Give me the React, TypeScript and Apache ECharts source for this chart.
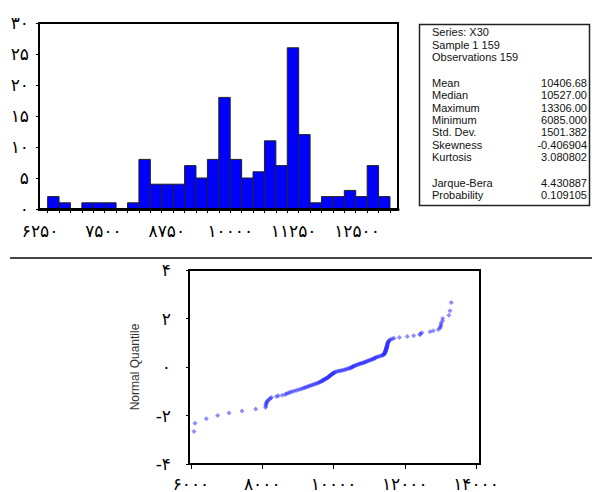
import React, { useEffect, useRef } from "react";
import * as echarts from "echarts";

// ---------- Histogram data ----------
const histCounts = [2, 1, 0, 1, 1, 1, 0, 1, 8, 4, 4, 4, 7, 5, 8, 18, 8, 5, 6, 11, 7, 26, 12, 1, 2, 2, 3, 2, 7, 2];
const binEdges = [
  6400, 6625, 6850, 7075, 7300, 7525, 7750, 7975, 8200, 8425, 8650, 8875, 9100, 9325, 9550, 9775,
  10000, 10225, 10450, 10675, 10900, 11125, 11350, 11575, 11800, 12025, 12250, 12475, 12700, 12925, 13150,
];
const histXLabels = [6250, 7500, 8750, 10000, 11250, 12500];

// ---------- Statistics box ----------
const statHeader = ["Series: X30", "Sample 1 159", "Observations 159"];
const statNames = ["Mean", "Median", "Maximum", "Minimum", "Std. Dev.", "Skewness", "Kurtosis"];
const statValues = ["10406.68", "10527.00", "13306.00", "6085.000", "1501.382", "-0.406904", "3.080802"];
const testNames = ["Jarque-Bera", "Probability"];
const testValues = ["4.430887", "0.109105"];

// ---------- Normal quantile plot data ----------
const qqValues = [
  6085, 6112, 6430, 6750, 7067, 7432, 7815, 8095, 8100, 8105,
  8112, 8124, 8140, 8165, 8200, 8230, 8260, 8400, 8450, 8560,
  8640, 8680, 8730, 8780, 8830, 8890, 8950, 9010, 9070, 9120,
  9170, 9200, 9240, 9280, 9320, 9360, 9400, 9440, 9480, 9520,
  9560, 9590, 9620, 9650, 9670, 9690, 9710, 9730, 9750, 9770,
  9790, 9810, 9830, 9845, 9860, 9875, 9890, 9905, 9920, 9935,
  9950, 9965, 9980, 9995, 10010, 10030, 10060, 10100, 10140, 10180,
  10220, 10260, 10300, 10340, 10370, 10420, 10450, 10480, 10500, 10527,
  10545, 10565, 10590, 10620, 10650, 10680, 10710, 10740, 10770, 10800,
  10830, 10860, 10885, 10910, 10940, 10970, 11000, 11030, 11060, 11090,
  11115, 11140, 11165, 11190, 11220, 11250, 11290, 11330, 11360, 11390,
  11405, 11415, 11425, 11432, 11440, 11445, 11450, 11455, 11460, 11465,
  11470, 11474, 11478, 11482, 11486, 11490, 11494, 11498, 11502, 11506,
  11510, 11514, 11518, 11522, 11530, 11540, 11555, 11570, 11600, 11650,
  11700, 11850, 12070, 12250, 12420, 12440, 12480, 12710, 12800, 12940,
  12990, 13005, 13015, 13020, 13062, 13065, 13238, 13270, 13306,
];
const qqQuantiles = [
  -2.66, -2.32, -2.13, -2.0, -1.9, -1.81, -1.73, -1.67, -1.61, -1.55,
  -1.5, -1.45, -1.41, -1.37, -1.33, -1.29, -1.26, -1.22, -1.19, -1.16,
  -1.13, -1.1, -1.07, -1.04, -1.02, -0.99, -0.97, -0.94, -0.92, -0.89,
  -0.87, -0.85, -0.82, -0.8, -0.78, -0.76, -0.74, -0.72, -0.7, -0.68,
  -0.66, -0.64, -0.62, -0.6, -0.58, -0.56, -0.55, -0.53, -0.51, -0.49,
  -0.47, -0.46, -0.44, -0.42, -0.41, -0.39, -0.37, -0.35, -0.34, -0.32,
  -0.3, -0.29, -0.27, -0.26, -0.24, -0.22, -0.21, -0.19, -0.17, -0.16,
  -0.14, -0.13, -0.11, -0.1, -0.08, -0.06, -0.05, -0.03, -0.02, 0,
  0.02, 0.03, 0.05, 0.06, 0.08, 0.1, 0.11, 0.13, 0.14, 0.16,
  0.17, 0.19, 0.21, 0.22, 0.24, 0.26, 0.27, 0.29, 0.3, 0.32,
  0.34, 0.35, 0.37, 0.39, 0.41, 0.42, 0.44, 0.46, 0.47, 0.49,
  0.51, 0.53, 0.55, 0.56, 0.58, 0.6, 0.62, 0.64, 0.66, 0.68,
  0.7, 0.72, 0.74, 0.76, 0.78, 0.8, 0.82, 0.85, 0.87, 0.89,
  0.92, 0.94, 0.97, 0.99, 1.02, 1.04, 1.07, 1.1, 1.13, 1.16,
  1.19, 1.22, 1.26, 1.29, 1.33, 1.37, 1.41, 1.45, 1.5, 1.55,
  1.61, 1.67, 1.73, 1.81, 1.9, 2.0, 2.13, 2.32, 2.66,
];
const qqXLabels = [6000, 8000, 10000, 12000, 14000];

const FA_DIGITS = "۰۱۲۳۴۵۶۷۸۹";
function fa(v: number): string {
  const s = String(Math.abs(Math.round(v))).replace(/\d/g, (d) => FA_DIGITS[Number(d)]);
  return v < 0 ? "-" + s : s;
}

const DIGIT_FONT = "DejaVu Sans";
const TEXT_FONT = "Liberation Sans, Arial, sans-serif";

export default function App() {
  const ref = useRef<HTMLDivElement>(null);

  useEffect(() => {
    if (!ref.current) return;
    const chart = echarts.init(ref.current, undefined, { renderer: "svg" });

    const histData = histCounts.map((c, i) => [binEdges[i], binEdges[i + 1], c]);
    const qqData = qqValues.map((v, i) => [v, qqQuantiles[i]]);

    const statTexts: any[] = [];
    const rowX = 432;
    const valX = 587;
    const textStyle = (text: string, right = false) => ({
      text,
      font: `11px ${TEXT_FONT}`,
      fill: "#111",
      textAlign: right ? "right" : "left",
      textVerticalAlign: "middle",
    });
    statHeader.forEach((t, i) => {
      statTexts.push({ type: "text", x: rowX, y: 32 + i * 12.7, style: textStyle(t) });
    });
    statNames.forEach((t, i) => {
      const y = 83 + i * 12.3;
      statTexts.push({ type: "text", x: rowX, y, style: textStyle(t) });
      statTexts.push({ type: "text", x: valX, y, style: textStyle(statValues[i], true) });
    });
    testNames.forEach((t, i) => {
      const y = 183 + i * 12.3;
      statTexts.push({ type: "text", x: rowX, y, style: textStyle(t) });
      statTexts.push({ type: "text", x: valX, y, style: textStyle(testValues[i], true) });
    });

    const digitLabel = {
      fontFamily: DIGIT_FONT,
      fontSize: 17,
      fontWeight: "normal",
      color: "#000",
      formatter: (v: number) => fa(v),
    };

    chart.setOption({
      animation: false,
      backgroundColor: "#fff",
      grid: [
        { left: 39, top: 23, width: 359, height: 186, show: true, borderColor: "#000", borderWidth: 2 },
        { left: 189, top: 270, width: 291, height: 197, show: true, borderColor: "#000", borderWidth: 2 },
      ],
      xAxis: [
        {
          gridIndex: 0,
          type: "value",
          min: 6230,
          max: 13308,
          z: 5,
          splitLine: { show: false },
          axisLine: { show: true, onZero: false, lineStyle: { color: "#000", width: 3 } },
          axisTick: { show: true, customValues: binEdges, length: 4, lineStyle: { color: "#000", width: 1 } },
          axisLabel: { ...digitLabel, customValues: histXLabels, margin: 13 },
        },
        {
          gridIndex: 1,
          type: "value",
          min: 5944,
          max: 14112,
          z: 5,
          splitLine: { show: false },
          axisLine: { show: true, onZero: false, lineStyle: { color: "#000", width: 2 } },
          axisTick: { show: true, customValues: qqXLabels, length: 5, lineStyle: { color: "#000", width: 1 } },
          axisLabel: { ...digitLabel, customValues: qqXLabels, margin: 11 },
        },
      ],
      yAxis: [
        {
          gridIndex: 0,
          type: "value",
          min: 0,
          max: 30,
          interval: 5,
          splitLine: { show: false },
          axisLine: { show: true, lineStyle: { color: "#000", width: 2 } },
          axisTick: { show: true, length: 3, lineStyle: { color: "#000" } },
          axisLabel: { ...digitLabel, margin: 10 },
        },
        {
          gridIndex: 1,
          type: "value",
          min: -4,
          max: 4,
          interval: 2,
          name: "Normal Quantile",
          nameLocation: "middle",
          nameRotate: 90,
          nameGap: 48,
          nameTextStyle: { fontFamily: TEXT_FONT, fontSize: 12, color: "#333" },
          splitLine: { show: false },
          axisLine: { show: true, lineStyle: { color: "#000", width: 2 } },
          axisTick: { show: true, length: 3, lineStyle: { color: "#000" } },
          axisLabel: { ...digitLabel, margin: 18 },
        },
      ],
      series: [
        {
          type: "custom",
          xAxisIndex: 0,
          yAxisIndex: 0,
          encode: { x: [0, 1], y: 2 },
          data: histData,
          renderItem: (params: any, api: any) => {
            const count = api.value(2);
            if (!count) return null;
            const p0 = api.coord([api.value(0), count]);
            const p1 = api.coord([api.value(1), 0]);
            return {
              type: "rect",
              shape: { x: p0[0], y: p0[1], width: p1[0] - p0[0], height: p1[1] - p0[1] },
              style: { fill: "#0000ff", stroke: "#222", lineWidth: 1 },
            };
          },
        },
        {
          type: "scatter",
          xAxisIndex: 1,
          yAxisIndex: 1,
          data: qqData,
          symbol: "diamond",
          symbolSize: 5,
          itemStyle: { color: "#3030ff", opacity: 0.55 },
        },
      ],
      graphic: [
        {
          type: "line",
          shape: { x1: 10, y1: 258, x2: 592, y2: 258 },
          style: { stroke: "#444", lineWidth: 2 },
        },
        {
          type: "rect",
          shape: { x: 419.5, y: 24.5, width: 170, height: 181 },
          style: { fill: "#fff", stroke: "#222", lineWidth: 1.5 },
        },
        ...statTexts,
      ],
    });

    return () => chart.dispose();
  }, []);

  return (
    <div
      ref={ref}
      style={{ position: "fixed", left: 0, top: 0, width: 592, height: 492, background: "#fff" }}
    />
  );
}
